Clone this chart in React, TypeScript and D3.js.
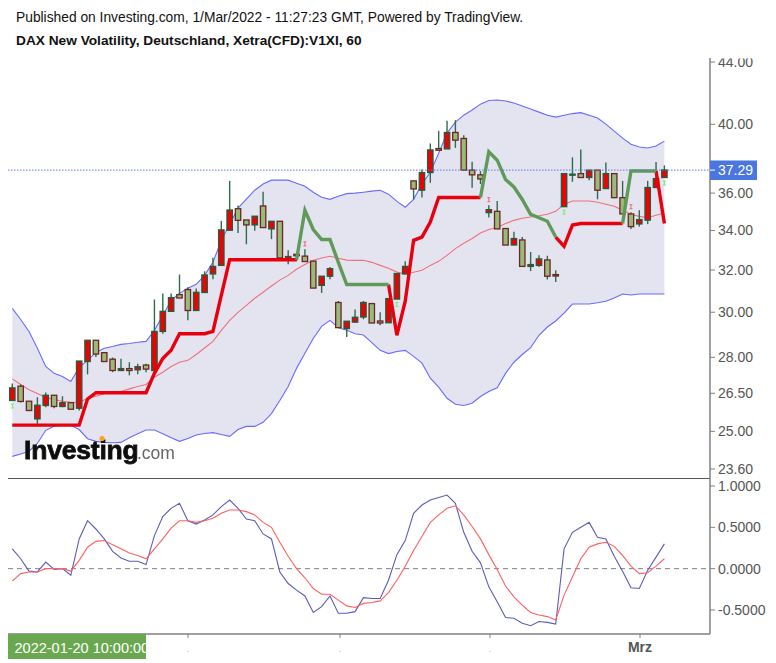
import React from "react";
import * as d3 from "d3";

const opens = [
  26.21, 26.79, 26.18, 25.48, 26.01, 26.42, 25.97, 26.12, 25.9, 27.82,
  28.74, 28.2, 27.92, 27.44, 27.52, 27.47, 27.67, 27.44, 29.13, 30.04,
  30.82, 31.06, 30.08, 30.92, 31.81, 32.23, 34.01, 35.15, 34.55, 34.29,
  35.3, 34.08, 34.48, 32.52, 32.78, 32.69, 32.44, 31.26, 31.7, 30.45,
  29.26, 29.55, 29.78, 30.4, 29.6, 29.52, 30.61, 31.81, 36.68, 36.16,
  37.15, 38.54, 38.52, 39.5, 39.14, 37.29, 37.02, 34.94, 35.01, 34.1,
  33.25, 33.51, 32.18, 32.23, 32.5, 31.78, 35.26, 37.0, 37.09, 36.87,
  37.29, 36.25, 37.09, 35.75, 34.87, 34.34, 34.54, 36.31, 36.87,
];
const closes = [
  26.72, 26.17, 25.81, 26.02, 26.42, 25.97, 26.12, 25.86, 27.84, 28.74,
  28.14, 27.82, 27.44, 27.52, 27.44, 27.6, 27.5, 29.13, 30.04, 30.68,
  30.66, 30.08, 30.93, 31.76, 32.18, 34.03, 35.08, 34.53, 34.29, 34.75,
  34.15, 34.48, 32.6, 32.67, 32.71, 32.42, 31.13, 31.7, 32.07, 29.3,
  29.59, 29.77, 30.45, 29.51, 29.51, 30.63, 31.83, 32.18, 36.23, 37.15,
  38.46, 38.44, 39.5, 39.04, 37.29, 37.02, 36.79, 35.1, 34.08, 33.25,
  33.58, 32.18, 32.27, 32.55, 31.7, 31.71, 37.09, 37.06, 36.87, 37.29,
  36.16, 37.09, 35.75, 34.87, 34.2, 34.57, 36.31, 36.81, 37.3,
];
const highs = [
  26.9, 26.86, 26.18, 26.34, 26.53, 26.42, 26.38, 26.12, 27.84, 28.74,
  28.74, 28.2, 27.99, 27.94, 27.79, 27.73, 27.73, 30.59, 30.87, 30.87,
  31.78, 31.17, 31.11, 31.94, 32.61, 34.5, 36.68, 35.33, 34.55, 34.75,
  36.07, 34.48, 34.48, 32.98, 32.8, 33.03, 32.44, 31.7, 32.15, 30.52,
  29.59, 30.12, 30.52, 30.4, 30.0, 30.63, 31.83, 32.44, 36.68, 37.32,
  38.84, 39.6, 40.21, 40.25, 39.34, 37.77, 37.23, 35.34, 35.57, 34.1,
  33.93, 33.66, 32.9, 32.73, 32.71, 31.99, 37.09, 38.03, 38.49, 37.29,
  37.29, 37.73, 37.09, 36.68, 34.96, 35.07, 36.68, 37.75, 37.56,
];
const lows = [
  26.21, 26.13, 25.81, 25.29, 25.94, 25.9, 25.94, 25.86, 25.81, 27.28,
  28.01, 27.82, 27.37, 27.44, 27.24, 27.28, 27.37, 27.44, 29.03, 30.04,
  30.66, 29.63, 30.08, 30.92, 31.55, 32.23, 34.01, 33.87, 33.29, 33.98,
  34.15, 33.55, 32.53, 32.28, 32.44, 32.42, 31.13, 30.9, 31.55, 29.3,
  28.88, 29.52, 29.68, 29.51, 29.41, 29.52, 30.61, 31.81, 35.65, 35.76,
  36.57, 38.44, 38.52, 38.58, 37.29, 36.29, 36.5, 34.68, 34.08, 33.25,
  33.25, 32.18, 31.95, 32.15, 31.54, 31.42, 35.26, 36.63, 36.87, 36.72,
  35.66, 36.25, 35.75, 34.87, 34.07, 34.2, 34.33, 36.31, 36.87,
];

const upperBand = [
  30.18, 29.67, 29.13, 28.39, 27.61, 27.32, 27.19, 26.98, 27.57, 27.87,
  28.21, 28.39, 28.47, 28.56, 28.6, 28.65, 28.69, 29.18, 29.85, 30.55,
  30.88, 31.12, 31.31, 31.74, 32.38, 33.49, 34.33, 35.18, 35.67, 36.16,
  36.5, 36.72, 36.72, 36.72, 36.55, 36.38, 36.05, 35.77, 35.66, 35.83,
  35.97, 36.0, 36.05, 36.11, 36.16, 35.94, 35.55, 35.23, 35.66, 36.5,
  37.17, 38.27, 39.46, 40.13, 40.56, 40.88, 41.25, 41.48, 41.51, 41.45,
  41.32, 41.13, 40.94, 40.75, 40.56, 40.44, 40.56, 40.66, 40.72, 40.56,
  40.38, 40.01, 39.58, 39.16, 38.8, 38.63, 38.57, 38.69, 38.98,
];
const lowerBand = [
  24.06, 24.15, 24.25, 24.54, 25.04, 25.2, 25.23, 25.23, 25.07, 24.72,
  24.62, 24.58, 24.57, 24.58, 24.76, 24.91, 25.05, 25.05, 24.91, 24.76,
  24.62, 24.73, 24.86, 24.92, 24.95, 24.88, 24.81, 25.07, 25.19, 25.19,
  25.35, 25.69, 26.21, 26.78, 27.53, 28.17, 28.82, 29.36, 29.63, 29.3,
  29.18, 29.03, 28.97, 28.64, 28.3, 28.16, 28.25, 28.3, 28.04, 27.75,
  27.12, 26.75, 26.3, 26.06, 26.01, 26.1, 26.37, 26.57, 26.72, 27.32,
  27.79, 28.12, 28.42, 28.96, 29.33, 29.6, 29.96, 30.38, 30.38, 30.38,
  30.44, 30.51, 30.66, 30.85, 30.8, 30.85, 30.85, 30.85, 30.85,
];
const basis = [
  27.09, 26.86, 26.64, 26.49, 26.33, 26.25, 26.18, 26.14, 26.14, 26.29,
  26.38, 26.48, 26.54, 26.57, 26.68, 26.78, 26.86, 27.16, 27.37, 27.61,
  27.79, 27.87, 28.12, 28.4, 28.69, 29.18, 29.63, 29.99, 30.32, 30.65,
  30.93, 31.23, 31.51, 31.74, 32.04, 32.27, 32.48, 32.6, 32.68, 32.58,
  32.49, 32.48, 32.48, 32.38, 32.23, 32.09, 31.9, 31.81, 31.89, 31.99,
  32.23, 32.43, 32.73, 33.07, 33.34, 33.58, 33.87, 34.05, 34.15, 34.36,
  34.53, 34.64, 34.71, 34.77, 34.85, 35.01, 35.39, 35.57, 35.57, 35.57,
  35.5, 35.39, 35.28, 35.07, 34.85, 34.74, 34.67, 34.8, 34.92,
];
const trend = [
  25.24, 25.24, 25.24, 25.24, 25.24, 25.24, 25.24, 25.24, 25.24, 26.27,
  26.52, 26.52, 26.52, 26.52, 26.52, 26.52, 26.52, 27.32, 27.95, 28.3,
  29.03, 29.03, 29.03, 29.03, 29.13, 30.79, 32.51, 32.51, 32.51, 32.51,
  32.51, 32.51, 32.51, 32.51, 32.51, 35.07, 34.05, 33.53, 33.53, 32.38,
  31.3, 31.3, 31.3, 31.3, 31.3, 31.3, 28.96, 30.51, 33.49, 33.66,
  34.44, 35.76, 35.76, 35.76, 35.76, 35.76, 35.76, 38.35, 37.86, 36.76,
  36.34, 35.65, 34.85, 34.67, 34.48, 33.66, 33.18, 34.28, 34.36, 34.36,
  34.36, 34.36, 34.36, 34.36, 37.24, 37.24, 37.24, 37.24, 34.36,
];
const redSpans = [[0, 34], [45, 56], [65, 73], [77, 78]];
const greenSpans = [[34, 45], [56, 65], [73, 77]];
const buySignals = [0, 46, 66, 78];
const sellSignals = [35, 57, 74];

const oscFast = [
  0.24, 0.12, -0.03, -0.04, 0.08, -0.01, 0, -0.08, 0.36, 0.58,
  0.48, 0.36, 0.21, 0.13, 0.09, 0.09, 0.05, 0.4, 0.63, 0.73,
  0.79, 0.58, 0.54, 0.59, 0.65, 0.75, 0.83, 0.73, 0.6, 0.58,
  0.42, 0.36, -0.04, -0.18, -0.26, -0.33, -0.53, -0.46, -0.33, -0.54,
  -0.54, -0.52, -0.35, -0.36, -0.36, -0.14, 0.17, 0.34, 0.67, 0.77,
  0.83, 0.86, 0.89, 0.79, 0.44, 0.21, 0.07, -0.22, -0.4, -0.59,
  -0.6, -0.66, -0.69, -0.64, -0.65, -0.67, 0.24, 0.44, 0.5, 0.56,
  0.38, 0.36, 0.15, -0.03, -0.23, -0.24, -0.02, 0.14, 0.3,
];
const oscSlow = [
  -0.15, -0.06, -0.04, -0.04, 0, 0, 0, -0.03, 0.1, 0.26,
  0.33, 0.34, 0.29, 0.24, 0.19, 0.16, 0.12, 0.24, 0.36, 0.49,
  0.58, 0.58, 0.56, 0.58, 0.61, 0.67, 0.71, 0.71, 0.69, 0.65,
  0.56, 0.5, 0.32, 0.15, 0, -0.11, -0.24, -0.31, -0.31, -0.38,
  -0.45, -0.47, -0.42, -0.41, -0.39, -0.29, -0.14, 0.03, 0.22, 0.39,
  0.56, 0.65, 0.73, 0.76, 0.65, 0.51, 0.36, 0.17, -0.01, -0.21,
  -0.34, -0.44, -0.53, -0.56, -0.58, -0.62, -0.32, -0.1, 0.12, 0.26,
  0.3, 0.32, 0.27, 0.16, 0.03, -0.06, -0.05, 0.03, 0.12,
];

const priceTicks = [44, 40, 36, 34, 32, 30, 28, 26.5, 25, 23.6];
const oscTicks = [1, 0.5, 0, -0.5];
const timeTicks = [188, 340, 490, 640];
const lastPrice = 37.29;

const x = d3.scaleLinear().domain([0, 78]).range([12.3, 664.4]);
const y = d3.scaleLog().domain([23.6, 44]).range([469, 62]);
const yOsc = d3.scaleLinear().domain([-0.5, 1]).range([610, 486]);

const priceLine = d3.line<number>().x((_, i) => x(i)).y(d => y(d));
const oscLine = d3.line<number>().x((_, i) => x(i)).y(d => yOsc(d));
const bandArea = d3
  .area<number>()
  .x((_, i) => x(i))
  .y0((_, i) => y(lowerBand[i]))
  .y1(d => y(d));

const spanPath = ([from, to]: number[]) =>
  d3
    .line<number>()
    .x(i => x(i))
    .y(i => y(trend[i]))(d3.range(from, to + 1));

const font = "'Liberation Sans', Arial, sans-serif";
const axisColor = "#808080";
const labelColor = "#555";

const Candles = () => (
  <g>
    {opens.map((open, i) => {
      const up = closes[i] >= open;
      const top = y(Math.max(open, closes[i]));
      const height = Math.abs(y(open) - y(closes[i]));
      return (
        <g key={i}>
          <line x1={x(i)} x2={x(i)} y1={y(highs[i])} y2={y(lows[i])} stroke="#2f6b4c" strokeWidth={1.4} />
          <rect
            x={x(i) - 2.7}
            y={top}
            width={5.4}
            height={Math.max(height, 1)}
            fill={up ? "#f00000" : "#9abb78"}
            stroke={up ? "#1f5f40" : "#6b2626"}
            strokeWidth={1.3}
          />
        </g>
      );
    })}
  </g>
);

const Signal = ({ cx, cy, color }: { cx: number; cy: number; color: string }) => (
  <path d={`M${cx - 1.5},${cy - 2}H${cx + 1.5}M${cx},${cy - 2}V${cy + 2}M${cx - 1.5},${cy + 2}H${cx + 1.5}`} stroke={color} strokeWidth={1} fill="none" />
);

const Logo = () => (
  <g fontFamily={font} filter="url(#logo-blur)">
    <text x={24} y={458.5} fontSize={26.5} fontWeight="bold" fill="#111" letterSpacing={-0.2} stroke="#111" strokeWidth={0.8}>
      Investing
    </text>
    <circle cx={102} cy={438.5} r={2.6} fill="#f5a623" />
    <text x={137} y={458.5} fontSize={17.5} fill="#666">
      .com
    </text>
  </g>
);

const App = () => (
  <svg
    width={776}
    height={663}
    style={{ position: "absolute", left: 0, top: 0, background: "#fff" }}
    fontFamily={font}
  >
    <defs>
      <clipPath id="axis-clip">
        <rect x={700} y={58.5} width={76} height={600} />
      </clipPath>
      <clipPath id="date-clip">
        <rect x={8} y={634} width={138} height={25} />
      </clipPath>
      <filter id="logo-blur" x="-5%" y="-20%" width="110%" height="140%">
        <feGaussianBlur stdDeviation={0.45} />
      </filter>
    </defs>

    <text x={16} y={21.5} fontSize={13.8} fill="#111">
      Published on Investing.com, 1/Mar/2022 - 11:27:23 GMT, Powered by TradingView.
    </text>
    <text x={16} y={45} fontSize={13.7} fontWeight="bold" fill="#111">
      DAX New Volatility, Deutschland, Xetra(CFD):V1XI, 60
    </text>

    <path d={bandArea(upperBand) ?? ""} fill="#e4e4f0" />
    <path d={priceLine(upperBand) ?? ""} fill="none" stroke="#6a6aff" strokeWidth={1.1} />
    <path d={priceLine(lowerBand) ?? ""} fill="none" stroke="#6a6aff" strokeWidth={1.1} />
    <path d={priceLine(basis) ?? ""} fill="none" stroke="#f0707c" strokeWidth={1.1} />

    <Candles />

    {redSpans.map((s, i) => (
      <path key={i} d={spanPath(s) ?? ""} fill="none" stroke="#e8000f" strokeWidth={3.4} />
    ))}
    {greenSpans.map((s, i) => (
      <path key={i} d={spanPath(s) ?? ""} fill="none" stroke="#5f9a58" strokeWidth={3.4} />
    ))}

    {buySignals.map(i => (
      <Signal key={i} cx={x(i)} cy={y(lows[i]) + 5.5} color="#66ee77" />
    ))}
    {sellSignals.map(i => (
      <Signal key={i} cx={x(i)} cy={y(highs[i]) - 5.5} color="#ee6677" />
    ))}

    <line x1={8} x2={710} y1={y(lastPrice)} y2={y(lastPrice)} stroke="#5b78e0" strokeWidth={1} strokeDasharray="1.5 1.5" />

    <Logo />

    <line x1={8} x2={710} y1={478.5} y2={478.5} stroke="#555" strokeWidth={1.2} />
    <line x1={8} x2={710} y1={yOsc(0)} y2={yOsc(0)} stroke="#808080" strokeWidth={1} strokeDasharray="5 4" />
    <path d={oscLine(oscFast) ?? ""} fill="none" stroke="#5c5cb8" strokeWidth={1.1} />
    <path d={oscLine(oscSlow) ?? ""} fill="none" stroke="#ff6060" strokeWidth={1.1} />

    <line x1={710} x2={710} y1={58} y2={634} stroke={axisColor} strokeWidth={1.5} />
    <line x1={8} x2={710} y1={634} y2={634} stroke={axisColor} strokeWidth={1.5} />

    <g clipPath="url(#axis-clip)" fontSize={14} fill={labelColor}>
      {priceTicks.map(t => (
        <g key={t}>
          <line x1={710} x2={715} y1={y(t)} y2={y(t)} stroke={axisColor} />
          <text x={718} y={y(t) + 5}>
            {t.toFixed(2)}
          </text>
        </g>
      ))}
      {oscTicks.map(t => (
        <g key={t}>
          <line x1={710} x2={715} y1={yOsc(t)} y2={yOsc(t)} stroke={axisColor} />
          <text x={718} y={yOsc(t) + 5}>
            {t.toFixed(4)}
          </text>
        </g>
      ))}
    </g>

    <rect x={710} y={160.5} width={47} height={19.5} fill="#4a76e0" />
    <line x1={710} x2={715} y1={y(lastPrice)} y2={y(lastPrice)} stroke="#fff" />
    <text x={718} y={175} fontSize={14} fill="#fff">
      {lastPrice.toFixed(2)}
    </text>

    {timeTicks.map(t => (
      <g key={t}>
        <line x1={t} x2={t} y1={634} y2={638} stroke={axisColor} />
        <rect x={t - 0.5} y={651} width={1} height={1} fill="#aaa" />
      </g>
    ))}
    <rect x={8} y={634} width={138} height={25} fill="#6aa84f" />
    <g clipPath="url(#date-clip)">
      <text x={14.5} y={653} fontSize={14.5} fill="#fff">
        2022-01-20 10:00:00
      </text>
    </g>
    <text x={640} y={652} fontSize={14} fontWeight="bold" fill={labelColor} textAnchor="middle">
      Mrz
    </text>
  </svg>
);

export default App;
